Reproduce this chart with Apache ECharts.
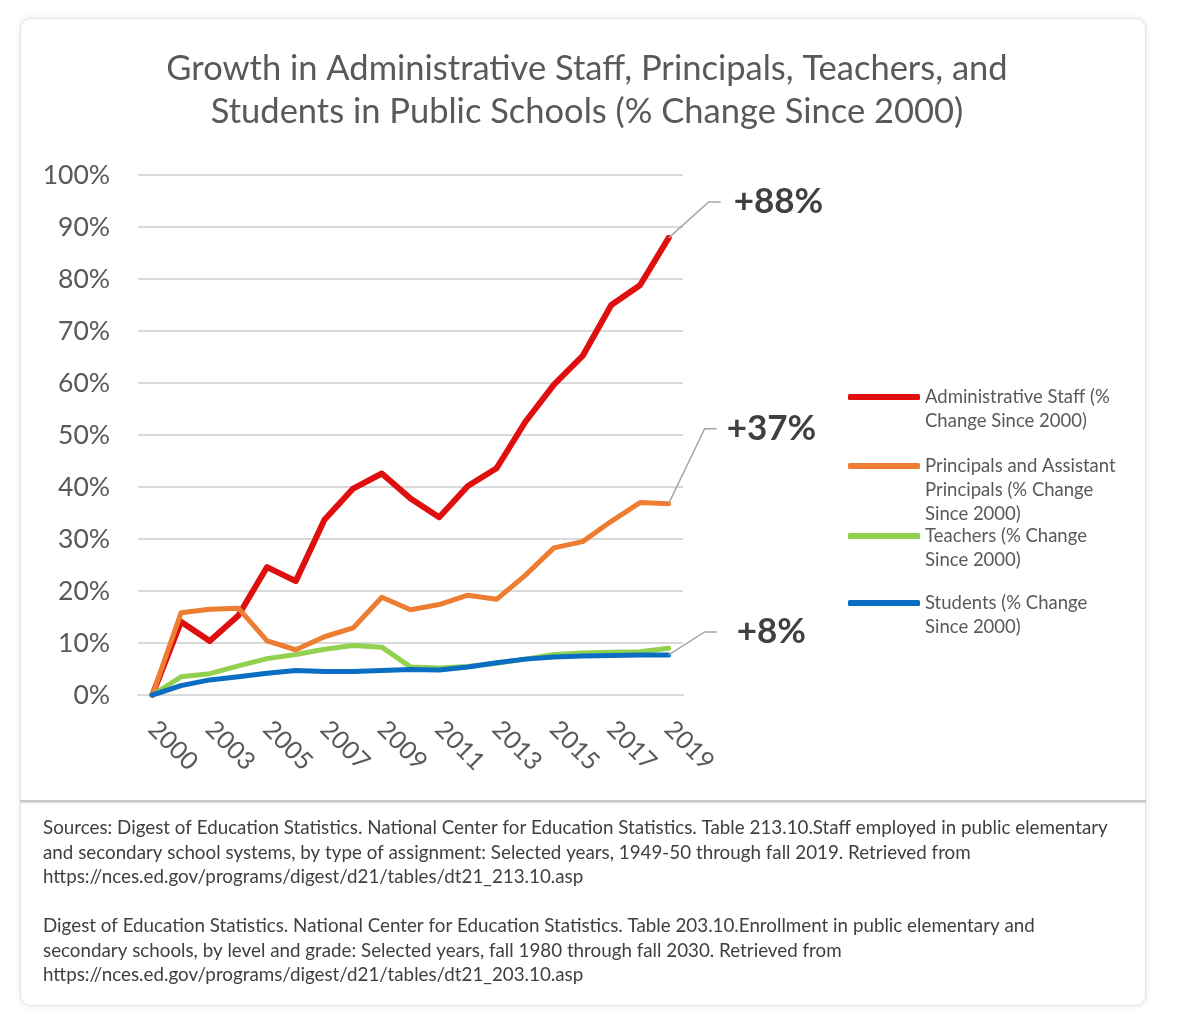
<!DOCTYPE html>
<html>
<head>
<meta charset="utf-8">
<script src="https://cdn.jsdelivr.net/npm/echarts@6/dist/echarts.min.js"></script>
<style>
  body { margin: 0; background: #fff; }
  .card {
    position: absolute; left: 20px; top: 18px; width: 1124px; height: 986px;
    border: 1px solid #e4e4e4; border-radius: 10px; background: #fff;
    box-shadow: 0 0 6px rgba(0,0,0,0.10);
  }
  .sep {
    position: absolute; left: 20px; top: 800px; width: 1126px; height: 2px;
    background: #c8c8c8; box-shadow: 0 1px 2px rgba(0,0,0,0.15);
  }
  #chart { position: absolute; left: 0; top: 0; width: 1200px; height: 1035px; }
</style>
</head>
<body>
<div class="card"></div>
<div class="sep"></div>
<div id="chart"></div>
<script>
// years on the category axis (2001 is missing in the source table)
var years = ['2000', '2002', '2003', '2004', '2005', '2006', '2007', '2008', '2009', '2010',
             '2011', '2012', '2013', '2014', '2015', '2016', '2017', '2018', '2019'];

// % change since 2000
var adminStaff = [0, 14.1, 10.4, 15.3, 24.6, 21.9, 33.7, 39.7, 42.6, 37.8,
                  34.2, 40.2, 43.6, 52.5, 59.7, 65.2, 75.0, 78.8, 87.9];
var principals = [0, 15.8, 16.5, 16.7, 10.4, 8.7, 11.2, 12.9, 18.8, 16.4,
                  17.4, 19.2, 18.4, 23.0, 28.3, 29.5, 33.4, 37.0, 36.8];
var teachers   = [0, 3.5, 4.1, 5.6, 7.0, 7.8, 8.8, 9.5, 9.2, 5.4,
                  5.2, 5.5, 6.1, 6.9, 7.8, 8.1, 8.2, 8.3, 9.0];
var students   = [0, 1.8, 2.9, 3.5, 4.2, 4.7, 4.5, 4.5, 4.7, 4.9,
                  4.8, 5.4, 6.2, 6.9, 7.3, 7.5, 7.6, 7.7, 7.7];

var seriesNames = ['Administrative Staff (% Change Since 2000)',
                   'Principals and Assistant Principals (% Change Since 2000)',
                   'Teachers (% Change Since 2000)',
                   'Students (% Change Since 2000)'];
var legendLines = [['Administrative Staff (%', 'Change Since 2000)'],
                   ['Principals and Assistant', 'Principals (% Change', 'Since 2000)'],
                   ['Teachers (% Change', 'Since 2000)'],
                   ['Students (% Change', 'Since 2000)']];
var colors = ['#e00f0f', '#ed7d31', '#92d050', '#0a6fc2'];

var titleText = 'Growth in Administrative Staff, Principals, Teachers, and\nStudents in Public Schools (% Change Since 2000)';
var sourceLines = [
  'Sources: Digest of Education Statistics. National Center for Education Statistics. Table 213.10.Staff employed in public elementary',
  'and secondary school systems, by type of assignment: Selected years, 1949-50 through fall 2019. Retrieved from',
  'https://nces.ed.gov/programs/digest/d21/tables/dt21_213.10.asp',
  '',
  'Digest of Education Statistics. National Center for Education Statistics. Table 203.10.Enrollment in public elementary and',
  'secondary schools, by level and grade: Selected years, fall 1980 through fall 2030. Retrieved from',
  'https://nces.ed.gov/programs/digest/d21/tables/dt21_203.10.asp'
];

var FONT = 'Lato';
var allData = [adminStaff, principals, teachers, students];
var legendTops = [361, 406, 500, 567];

var chart = echarts.init(document.getElementById('chart'));

var legends = seriesNames.map(function (name, i) {
  return {
    data: [name],
    left: 848,
    top: legendTops[i],
    padding: 0,
    orient: 'vertical',
    selectedMode: false,
    icon: 'roundRect',
    itemWidth: 72,
    itemHeight: 6,
    formatter: function () {
      var lines = legendLines[i];
      var pad = [];
      for (var k = 0; k < lines.length - 1; k++) pad.push('');
      return pad.concat(lines).join('\n');
    },
    textStyle: { fontFamily: FONT, fontSize: 18.5, color: '#595959', lineHeight: 24 }
  };
});

var series = seriesNames.map(function (name, i) {
  return {
    name: name,
    type: 'line',
    data: allData[i],
    showSymbol: false,
    symbol: 'none',
    color: colors[i],
    lineStyle: { width: i === 0 ? 6 : 5, color: colors[i], join: 'round', cap: 'round' },
    z: 2 + i
  };
});

var option = {
  animation: false,
  title: {
    text: titleText,
    left: 582,
    top: 42,
    textAlign: 'center',
    textStyle: { fontFamily: FONT, fontSize: 34.5, fontWeight: 'normal', color: '#595959', lineHeight: 43 }
  },
  legend: legends,
  grid: { left: 138, right: 517, top: 175, bottom: 340, containLabel: false },
  xAxis: {
    type: 'category',
    data: years,
    boundaryGap: true,
    axisLine: { lineStyle: { color: '#d9d9d9', width: 2 } },
    axisTick: { show: false },
    axisLabel: {
      interval: 1,
      rotate: -45,
      margin: 30,
      fontFamily: FONT, fontSize: 25, color: '#595959'
    }
  },
  yAxis: {
    type: 'value',
    min: 0, max: 100, interval: 10,
    axisLine: { show: false },
    axisTick: { show: false },
    splitLine: { lineStyle: { color: '#d9d9d9', width: 2 } },
    axisLabel: { formatter: '{value}%', margin: 28, fontFamily: FONT, fontSize: 26.5, color: '#595959' }
  },
  series: series
};

chart.setOption(option);

// leader lines + end labels, anchored on the last point of each series
var annoSeries = [0, 1, 3];
var annoDx = [40, 36, 36], annoDy = [-36, -75, -23], annoGap = [13, 10, 20];
var graphics = [];
annoSeries.forEach(function (si, k) {
  var d = allData[si];
  var last = d.length - 1;
  var p = chart.convertToPixel({ seriesIndex: si }, [last, d[last]]);
  var ex = p[0] + annoDx[k], ey = p[1] + annoDy[k];
  graphics.push({
    type: 'polyline',
    shape: { points: [[p[0], p[1]], [ex, ey], [ex + 12, ey]] },
    style: { stroke: '#a6a6a6', lineWidth: 1.5, fill: null },
    z: 10
  });
  graphics.push({
    type: 'text',
    x: ex + 12 + annoGap[k],
    y: ey,
    style: {
      text: '+' + Math.round(d[last]) + '%',
      fontFamily: FONT, fontSize: 35, fontWeight: 'bold', fill: '#404040',
      verticalAlign: 'middle'
    },
    z: 10
  });
});
sourceLines.forEach(function (line, i) {
  if (!line) return;
  graphics.push({
    type: 'text',
    x: 43,
    y: 828 + i * 24.5,
    style: { text: line, fontFamily: FONT, fontSize: 18.8, fill: '#404040', verticalAlign: 'middle' }
  });
});
chart.setOption({ graphic: graphics });
</script>
</body>
</html>
